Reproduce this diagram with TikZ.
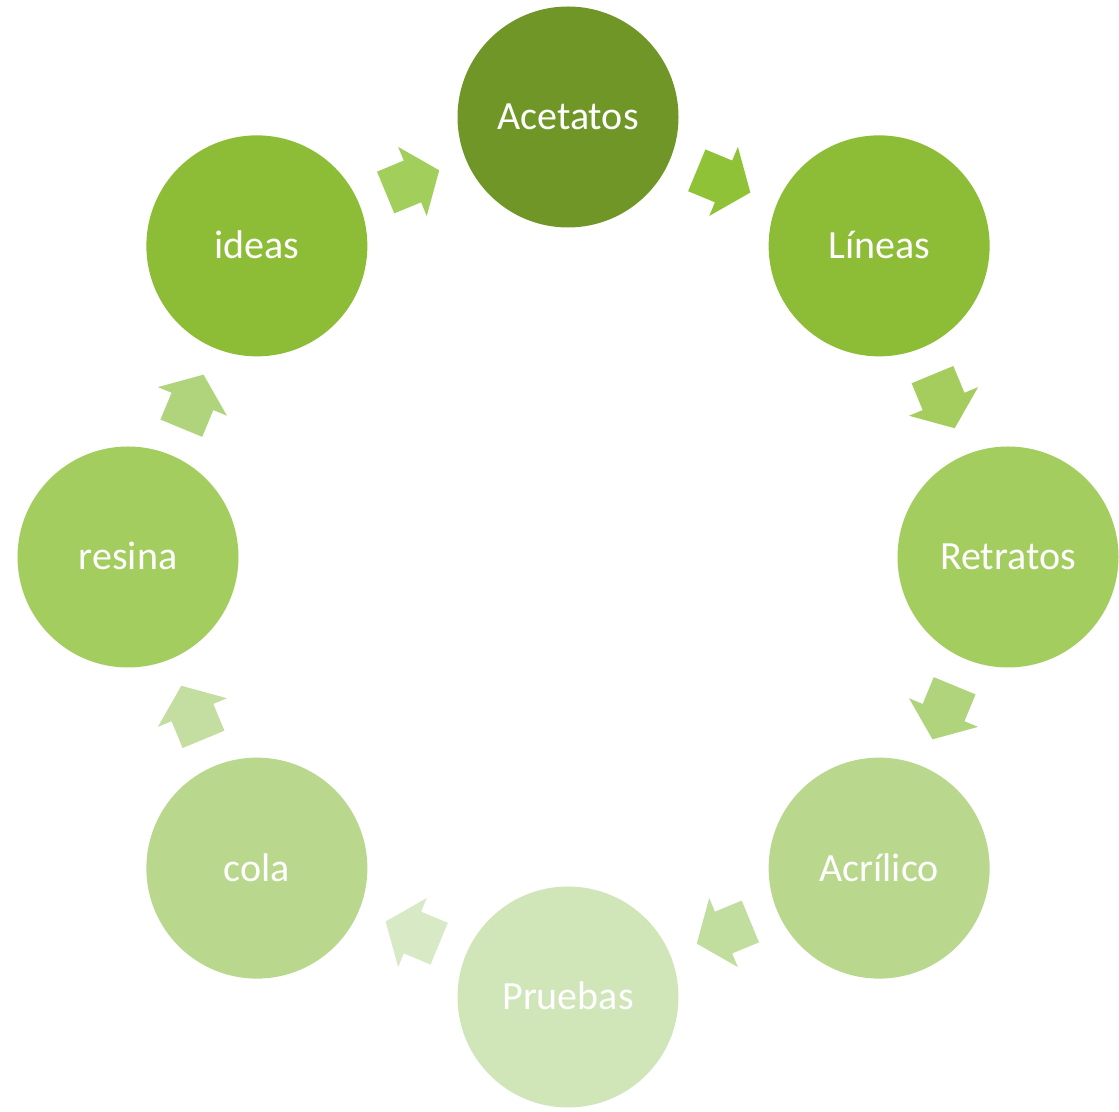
\documentclass[tikz,border=0pt]{standalone}
\usepackage{fontspec}
\setmainfont{Carlito}
\usetikzlibrary{calc}
\definecolor{cA}{HTML}{709628}
\definecolor{cB}{HTML}{8DBC36}
\definecolor{cC}{HTML}{A4CD60}
\definecolor{cD}{HTML}{B9D88D}
\definecolor{cE}{HTML}{D0E5B8}
\definecolor{a0}{HTML}{90C238}
\definecolor{a1}{HTML}{A4CD5E}
\definecolor{a2}{HTML}{B0D47C}
\definecolor{a3}{HTML}{C2DE9E}
\definecolor{a4}{HTML}{D8E9C6}
\definecolor{a5}{HTML}{C3DEA0}
\definecolor{a6}{HTML}{B0D47C}
\definecolor{a7}{HTML}{A2CE5C}
\tikzset{
  circ/.style={circle, minimum size=221bp, inner sep=0pt, draw=none, text=white,
    font=\fontsize{40bp}{48bp}\selectfont, text height=26bp, text depth=0pt},
  cyclearrow/.pic={\fill (-29,-22.6) -- (0,-22.6) -- (0,-37.4) -- (29,0) -- (0,37.4) -- (0,22.6) -- (-29,22.6) -- cycle;}
}
\begin{document}
\begin{tikzpicture}[x=1bp,y=1bp]
\useasboundingbox (0,0) rectangle (1119,1112);
\coordinate (C) at (568,555);
\node[circ, fill=cA] (n0) at ([shift={(90:440)}]C) {Acetatos};
\node[circ, fill=cB] (n1) at ([shift={(45:440)}]C) {Líneas};
\node[circ, fill=cC] (n2) at ([shift={(0:440)}]C) {Retratos};
\node[circ, fill=cD] (n3) at ([shift={(-45:440)}]C) {Acrílico};
\node[circ, fill=cE] (n4) at ([shift={(-90:440)}]C) {Pruebas};
\node[circ, fill=cD] (n5) at ([shift={(-135:440)}]C) {cola};
\node[circ, fill=cC] (n6) at ([shift={(180:440)}]C) {resina};
\node[circ, fill=cB] (n7) at ([shift={(135:440)}]C) {ideas};
\pic[fill=a0, rotate=-22.5] at ($(n0)!0.5!(n1)$) {cyclearrow};
\pic[fill=a1, rotate=-67.5] at ($(n1)!0.5!(n2)$) {cyclearrow};
\pic[fill=a2, rotate=-112.5] at ($(n2)!0.5!(n3)$) {cyclearrow};
\pic[fill=a3, rotate=-157.5] at ($(n3)!0.5!(n4)$) {cyclearrow};
\pic[fill=a4, rotate=-202.5] at ($(n4)!0.5!(n5)$) {cyclearrow};
\pic[fill=a5, rotate=-247.5] at ($(n5)!0.5!(n6)$) {cyclearrow};
\pic[fill=a6, rotate=-292.5] at ($(n6)!0.5!(n7)$) {cyclearrow};
\pic[fill=a7, rotate=-337.5] at ($(n7)!0.5!(n0)$) {cyclearrow};
\end{tikzpicture}
\end{document}
